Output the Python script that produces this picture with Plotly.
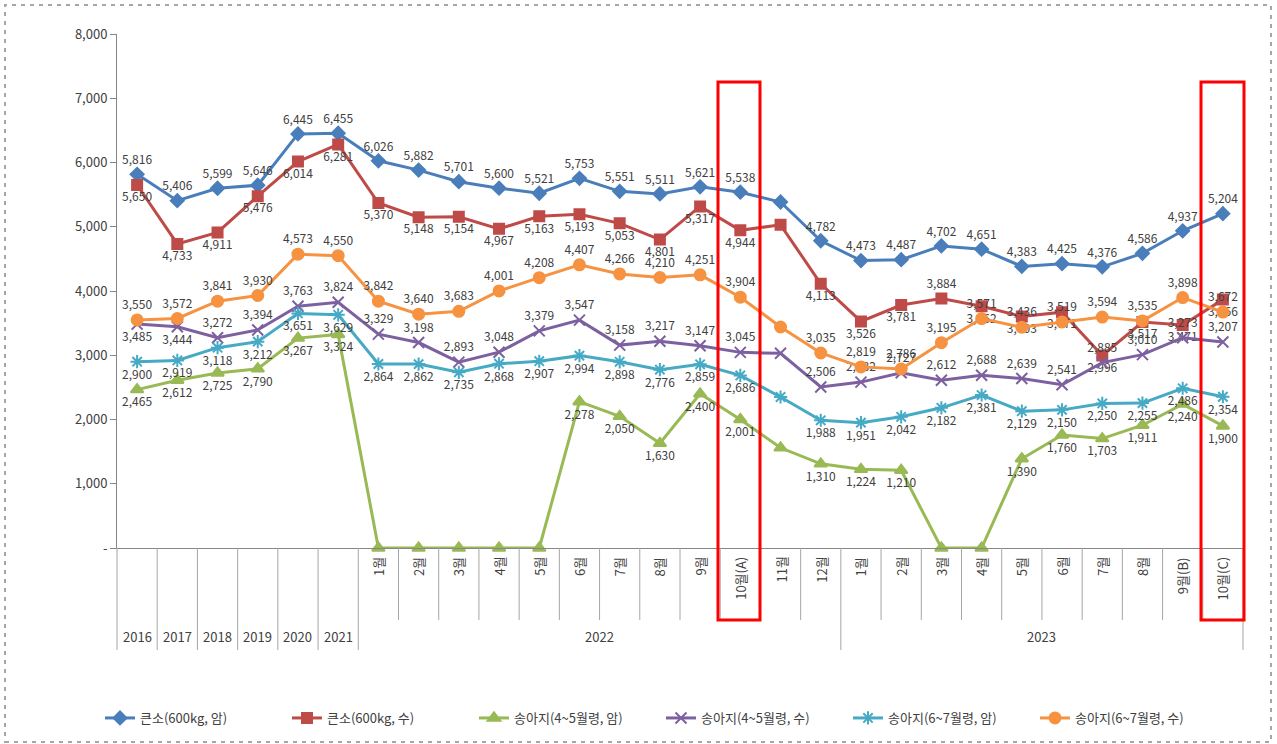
import plotly.graph_objects as go

# ---------------- data ----------------
years = ["2016", "2017", "2018", "2019", "2020", "2021",
         "2022", "2022", "2022", "2022", "2022", "2022", "2022", "2022", "2022", "2022", "2022", "2022",
         "2023", "2023", "2023", "2023", "2023", "2023", "2023", "2023", "2023", "2023"]
periods = ["", "", "", "", "", "",
           "1월", "2월", "3월", "4월", "5월", "6월", "7월", "8월", "9월", "10월(A)", "11월", "12월",
           "1월", "2월", "3월", "4월", "5월", "6월", "7월", "8월", "9월(B)", "10월(C)"]

big_f = [5816, 5406, 5599, 5646, 6445, 6455,
         6026, 5882, 5701, 5600, 5521, 5753, 5551, 5511, 5621, 5538, 5385, 4782,
         4473, 4487, 4702, 4651, 4383, 4425, 4376, 4586, 4937, 5204]
big_m = [5650, 4733, 4911, 5476, 6014, 6281,
         5370, 5148, 5154, 4967, 5163, 5193, 5053, 4801, 5317, 4944, 5030, 4113,
         3526, 3781, 3884, 3762, 3603, 3671, 2996, 3517, 3471, 3866]
calf45_f = [2465, 2612, 2725, 2790, 3267, 3324,
            0, 0, 0, 0, 0, 2278, 2050, 1630, 2400, 2001, 1560, 1310,
            1224, 1210, 0, 0, 1390, 1760, 1703, 1911, 2240, 1900]
calf45_m = [3485, 3444, 3272, 3394, 3763, 3824,
            3329, 3198, 2893, 3048, 3379, 3547, 3158, 3217, 3147, 3045, 3030, 2506,
            2582, 2727, 2612, 2688, 2639, 2541, 2885, 3010, 3273, 3207]
calf67_f = [2900, 2919, 3118, 3212, 3651, 3629,
            2864, 2862, 2735, 2868, 2907, 2994, 2898, 2776, 2859, 2686, 2350, 1988,
            1951, 2042, 2182, 2381, 2129, 2150, 2250, 2255, 2486, 2354]
calf67_m = [3550, 3572, 3841, 3930, 4573, 4550,
            3842, 3640, 3683, 4001, 4208, 4407, 4266, 4210, 4251, 3904, 3440, 3035,
            2819, 2786, 3195, 3571, 3436, 3519, 3594, 3535, 3898, 3672]

series_names = ["큰소(600kg, 암)", "큰소(600kg, 수)", "송아지(4~5월령, 암)",
                "송아지(4~5월령, 수)", "송아지(6~7월령, 암)", "송아지(6~7월령, 수)"]
unlabeled_index = 16  # 2022년 11월: no data labels

ytick_vals = [0, 1000, 2000, 3000, 4000, 5000, 6000, 7000, 8000]
ytick_text = ["-", "1,000", "2,000", "3,000", "4,000", "5,000", "6,000", "7,000", "8,000"]

# ---------------- styling ----------------
FONT = "Noto Sans CJK KR"
cats = [f"{y}|{p}" if p else y for y, p in zip(years, periods)]
n = len(cats)

styles = [
    dict(color="#4A7EBB", symbol="diamond", size=10, default="top center", exceptions={}),
    dict(color="#BE4B48", symbol="square", size=10, default="bottom center", exceptions={20: "top center"}),
    dict(color="#98B954", symbol="triangle-up", size=11, default="bottom center", exceptions={}),
    dict(color="#7D60A0", symbol="x-thin-open", size=11, default="top center", exceptions={0: "bottom center", 1: "bottom center"}),
    dict(color="#46AAC5", symbol="asterisk-open", size=11, default="bottom center", exceptions={}),
    dict(color="#F69240", symbol="circle", size=11, default="top center", exceptions={}),
]
all_series = [big_f, big_m, calf45_f, calf45_m, calf67_f, calf67_m]

fig = go.Figure()
for name, vals, st in zip(series_names, all_series, styles):
    texts = []
    poss = []
    for i, v in enumerate(vals):
        if i == unlabeled_index or v == 0:
            texts.append("")
        else:
            texts.append(f"{v:,}")
        poss.append(st["exceptions"].get(i, st["default"]))
    fig.add_trace(go.Scatter(
        x=cats, y=vals, name=name, mode="lines+markers+text",
        text=texts, textposition=poss,
        textfont=dict(family=FONT, size=12, color="#404040"),
        line=dict(color=st["color"], width=3),
        marker=dict(symbol=st["symbol"], size=st["size"], color=st["color"],
                    line=dict(color=st["color"], width=2)),
        cliponaxis=False,
    ))

# ---------------- category axis drawing (labels, dividers) ----------------
W, H = 1277, 744
PL, PR = 117, 1243
PW = PR - PL
PX_TOP, PX_BOT = 34, 548
PH = PX_BOT - PX_TOP


def py(pix):
    return (PX_BOT - pix) / PH


def px(pix):
    return (pix - PL) / PW


shapes = []
long_bounds = {0, 1, 2, 3, 4, 5, 6, 18, 28}
for b in range(n + 1):
    shapes.append(dict(type="line", xref="paper", yref="paper", x0=b / n, x1=b / n,
                       y0=0, y1=py(650 if b in long_bounds else 620),
                       line=dict(color="#A6A6A6", width=1)))

annotations = []
for i, (y, p) in enumerate(zip(years, periods)):
    if p:
        annotations.append(dict(x=i, y=py(555), xref="x", yref="paper", text=p, showarrow=False,
                                textangle=-90, xanchor="center", yanchor="top",
                                font=dict(family=FONT, size=13, color="#404040")))
    else:
        annotations.append(dict(x=i, y=py(636), xref="x", yref="paper", text=y, showarrow=False,
                                xanchor="center", yanchor="middle",
                                font=dict(family=FONT, size=13, color="#404040")))
for yr in ["2022", "2023"]:
    idx = [i for i, y in enumerate(years) if y == yr]
    annotations.append(dict(x=(idx[0] + idx[-1]) / 2, y=py(636), xref="x", yref="paper", text=yr,
                            showarrow=False, xanchor="center", yanchor="middle",
                            font=dict(family=FONT, size=13, color="#404040")))

# red highlight boxes (pixel positions of the reference)
for lo, hi in [(718, 760), (1201, 1244)]:
    shapes.append(dict(type="rect", xref="paper", yref="paper", x0=px(lo), x1=px(hi),
                       y0=py(620), y1=py(82),
                       line=dict(color="#FF0000", width=3), fillcolor="rgba(0,0,0,0)"))

# dashed outer border
shapes.append(dict(type="rect", xref="paper", yref="paper",
                   x0=px(5), x1=px(1271), y0=py(742), y1=py(5),
                   line=dict(color="#A6A6A6", width=2, dash="4px,5px"), fillcolor="rgba(0,0,0,0)"))

fig.update_layout(
    width=W, height=H,
    margin=dict(l=PL, r=W - PR, t=PX_TOP, b=H - PX_BOT, autoexpand=False),
    paper_bgcolor="white", plot_bgcolor="white",
    font=dict(family=FONT, color="#404040"),
    showlegend=True,
    legend=dict(orientation="h", x=px(100), y=py(718), xanchor="left", yanchor="middle",
                font=dict(family=FONT, size=13, color="#404040"),
                entrywidth=142, entrywidthmode="pixels", itemwidth=30, tracegroupgap=0),
    shapes=shapes,
    annotations=annotations,
)
fig.update_xaxes(type="category", categoryorder="array", categoryarray=cats,
                 range=[-0.5, n - 0.5], showticklabels=False, ticks="",
                 showline=True, linecolor="#868686", linewidth=1, showgrid=False, zeroline=False,
                 automargin=False)
fig.update_yaxes(range=[0, 8000], tickvals=ytick_vals, ticktext=ytick_text,
                 ticks="outside", ticklen=6, tickcolor="#868686",
                 showline=True, linecolor="#868686", linewidth=1, showgrid=False, zeroline=False,
                 tickfont=dict(family=FONT, size=13, color="#404040"), automargin=False)

fig.write_html("out.html", config={"displayModeBar": False},
               post_script="document.body.style.margin='0px';document.body.style.overflow='hidden';")
